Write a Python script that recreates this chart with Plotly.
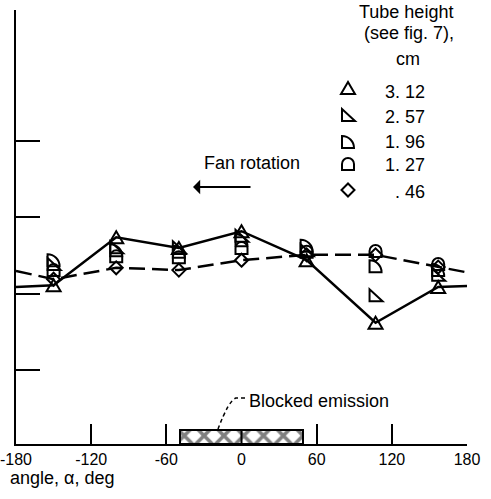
import plotly.graph_objects as go

# Measured circumferential positions of the probe stations, deg
angles = [-150, -100, -50, 0, 52, 107, 157]

# Readings for each tube height (arbitrary linear scale, unlabeled axis)
h312 = [2.11, 2.74, 2.60, 2.82, 2.44, 1.62, 2.09]
h257 = [2.39, 2.61, 2.61, 2.76, 2.57, 1.98, 2.25]
h196 = [2.44, 2.57, 2.55, 2.70, 2.63, 2.36, 2.31]
h127 = [2.31, 2.49, 2.48, 2.60, 2.55, 2.56, 2.39]
h046 = [2.19, 2.34, 2.31, 2.44, 2.51, 2.51, 2.35]

# Where the faired curves leave the plot at -180 / +180 deg
edge_angles = [-180, 180]
h312_edges = [2.09, 2.10]
h046_edges = [2.30, 2.28]

x_ticks = [-180, -120, -60, 0, 60, 120, 180]
x_tick_labels = ["-180", "-120", "-60", "0", "60", "120", "180"]
x_tick_marks = [-120, -60, 60, 120, 180]
y_tick_marks = [1, 2, 3, 4]
tube_heights = ["3. 12", "2. 57", "1. 96", "1. 27", ". 46"]

blocked = [-49, 49]          # blocked emission sector, deg
blocked_top = 0.21

Y_RANGE = [0.03, 5.72]
FONT = "Liberation Sans, Arial, sans-serif"

W, H = 491, 499
ML, MR, MT, MB = 16, 24, 10, 55
PW, PH = W - ML - MR, H - MT - MB


def px(x):
    return (x - ML) / PW


def py(y):
    return (H - MB - y) / PH


# Open marker outlines in pixel units (y up), centred on the point
SYMBOLS = {
    "tri": "M -7,-6 L 7,-6 L 0,6 Z",
    "rtri": "M -6,-6 L 7,-6 L -6,6 Z",
    "quarter": "M -6,-6 L 6,-6 C 6,0.6 0.6,6 -6,6 Z",
    "arch": "M -6,-6 L 6,-6 L 6,0 C 6,3.3 3.3,6 0,6 C -3.3,6 -6,3.3 -6,0 Z",
    "diamond": "M 0,-6.5 L 6.5,0 L 0,6.5 L -6.5,0 Z",
}
series = [
    ("tri", h312),
    ("rtri", h257),
    ("quarter", h196),
    ("arch", h127),
    ("diamond", h046),
]

fig = go.Figure()

# Blocked emission sector, cross-hatched
fig.add_trace(go.Bar(
    x=[(blocked[0] + blocked[1]) / 2],
    y=[blocked_top - Y_RANGE[0]],
    base=[Y_RANGE[0]],
    width=[blocked[1] - blocked[0]],
    marker=dict(
        color="white",
        line=dict(color="black", width=2),
        pattern=dict(shape="x", size=14, solidity=0.45, fgcolor="black", bgcolor="white"),
    ),
    hoverinfo="skip",
))

# Faired curves for the tallest and shortest tubes
fig.add_trace(go.Scatter(
    x=[edge_angles[0]] + angles + [edge_angles[1]],
    y=[h312_edges[0]] + h312 + [h312_edges[1]],
    mode="lines",
    line=dict(color="black", width=2.5),
    hoverinfo="skip",
))
fig.add_trace(go.Scatter(
    x=[edge_angles[0]] + angles + [edge_angles[1]],
    y=[h046_edges[0]] + h046 + [h046_edges[1]],
    mode="lines",
    line=dict(color="black", width=2.5, dash="16px,7px"),
    hoverinfo="skip",
))

shapes = []
for sym, vals in series:
    for a, v in zip(angles, vals):
        shapes.append(dict(
            type="path", xref="x", yref="y",
            xsizemode="pixel", ysizemode="pixel",
            xanchor=a, yanchor=v,
            path=SYMBOLS[sym],
            line=dict(color="black", width=2),
            fillcolor="rgba(0,0,0,0)",
        ))

# Divider through the hatched sector at 0 deg
shapes.append(dict(type="line", xref="x", yref="y",
                   x0=0, x1=0, y0=Y_RANGE[0], y1=blocked_top,
                   line=dict(color="black", width=2)))

# Dashed leader to the hatched sector
shapes.append(dict(
    type="path", xref="paper", yref="paper",
    path=f"M {px(245)},{py(398)} L {px(236)},{py(398)} "
         f"Q {px(229)},{py(400)} {px(218)},{py(429)}",
    line=dict(color="black", width=1.5, dash="4px,3px"),
))

annotations = []

# Key
legend_sym_y = [88, 115, 142, 164, 190]
legend_txt_y = [92, 117, 142, 165, 192]
for (sym, _), sy, ty, lab in zip(series, legend_sym_y, legend_txt_y, tube_heights):
    shapes.append(dict(
        type="path", xref="paper", yref="paper",
        xsizemode="pixel", ysizemode="pixel",
        xanchor=px(348), yanchor=py(sy),
        path=SYMBOLS[sym],
        line=dict(color="black", width=2),
        fillcolor="rgba(0,0,0,0)",
    ))
    annotations.append(dict(
        xref="paper", yref="paper", x=px(427), y=py(ty),
        xanchor="right", yanchor="middle", text=lab, showarrow=False,
        font=dict(family=FONT, size=18, color="black"),
    ))

for txt, cx, cy in [("Tube height", 406, 12), ("(see fig. 7),", 409, 33), ("cm", 408, 59)]:
    annotations.append(dict(
        xref="paper", yref="paper", x=px(cx), y=py(cy),
        xanchor="center", yanchor="middle", text=txt, showarrow=False,
        font=dict(family=FONT, size=18, color="black"),
    ))

annotations.append(dict(
    xref="paper", yref="paper", x=px(252), y=py(163),
    xanchor="center", yanchor="middle", text="Fan rotation", showarrow=False,
    font=dict(family=FONT, size=18, color="black"),
))
annotations.append(dict(
    xref="paper", yref="paper", x=px(193), y=py(187),
    ax=59, ay=0, text="", showarrow=True,
    arrowhead=1, arrowsize=1.2, arrowwidth=2, arrowcolor="black",
))
annotations.append(dict(
    xref="paper", yref="paper", x=px(247), y=py(401),
    xanchor="left", yanchor="middle", text="Blocked emission", showarrow=False,
    font=dict(family=FONT, size=18, color="black"),
))
annotations.append(dict(
    xref="paper", yref="paper", x=px(8), y=py(478),
    xanchor="left", yanchor="middle", text="angle, \u03b1, deg", showarrow=False,
    font=dict(family=FONT, size=18, color="black"),
))

fig.update_layout(
    width=W, height=H,
    margin=dict(l=ML, r=MR, t=MT, b=MB, autoexpand=False),
    paper_bgcolor="white", plot_bgcolor="white",
    showlegend=False,
    bargap=0,
    xaxis=dict(
        range=[-180, 180], showgrid=False, zeroline=False, automargin=False,
        showline=True, linecolor="black", linewidth=2,
        tickmode="array", tickvals=x_ticks, ticktext=x_tick_labels,
        ticks="", ticklabeloverflow="allow",
        tickfont=dict(family=FONT, size=16, color="black"),
    ),
    xaxis2=dict(
        range=[-180, 180], overlaying="x", anchor="y", side="bottom",
        showgrid=False, zeroline=False, showline=False, showticklabels=False,
        automargin=False,
        tickmode="array", tickvals=x_tick_marks,
        ticks="inside", ticklen=20, tickwidth=2, tickcolor="black",
    ),
    yaxis=dict(
        range=Y_RANGE, showgrid=False, zeroline=False, automargin=False,
        showline=True, linecolor="black", linewidth=2,
        tickmode="array", tickvals=y_tick_marks, showticklabels=False,
        ticks="inside", ticklen=24, tickwidth=2, tickcolor="black",
    ),
    shapes=shapes,
    annotations=annotations,
)

# Invisible trace so the tick-only overlay axis is drawn
fig.add_trace(go.Scatter(x=[None], y=[None], xaxis="x2", yaxis="y",
                         mode="markers", hoverinfo="skip", showlegend=False))

fig.write_html("out.html")
